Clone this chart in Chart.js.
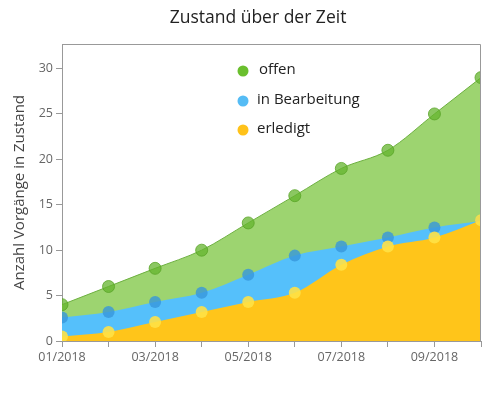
<!DOCTYPE html>
<html>
<head>
<meta charset="utf-8">
<script src="https://cdn.jsdelivr.net/npm/chart.js"></script>
<style>
  html, body { margin: 0; padding: 0; background: #fff; }
  #wrap { width: 484px; height: 393px; }
</style>
</head>
<body>
<div id="wrap"><canvas id="chart" width="484" height="393"></canvas></div>
<script>
// DATA
const months = ['01/2018', '02/2018', '03/2018', '04/2018', '05/2018', '06/2018', '07/2018', '08/2018', '09/2018', '10/2018'];
const offen = [4, 6, 8, 10, 13, 16, 19, 21, 25, 29];
const inBearbeitung = [2.6, 3.2, 4.3, 5.3, 7.3, 9.4, 10.4, 11.4, 12.5, 13.2];
const erledigt = [0.5, 1, 2.1, 3.2, 4.3, 5.3, 8.4, 10.4, 11.4, 13.3];
const seriesLabels = ['offen', 'in Bearbeitung', 'erledigt'];
const yTicks = [0, 5, 10, 15, 20, 25, 30];

const FONT = "'Open Sans', sans-serif";
const legendColors = ['#6abf2e', '#55bcf5', '#ffc21a'];

// title, y title, legend and frame drawn by hand
const decor = {
    id: 'decor',
    afterDraw(chart) {
        const ctx = chart.ctx;
        const a = chart.chartArea;
        ctx.save();
        ctx.strokeStyle = '#999';
        ctx.lineWidth = 1;
        ctx.beginPath();
        ctx.moveTo(a.left, a.top + 0.5);
        ctx.lineTo(a.right - 0.5, a.top + 0.5);
        ctx.lineTo(a.right - 0.5, a.bottom);
        ctx.stroke();

        ctx.fillStyle = '#222';
        ctx.font = '17.5px ' + FONT;
        ctx.textAlign = 'center';
        ctx.textBaseline = 'middle';
        ctx.fillText('Zustand über der Zeit', 258, 18);

        ctx.save();
        ctx.translate(20, (a.top + a.bottom) / 2);
        ctx.rotate(-Math.PI / 2);
        ctx.fillStyle = '#444';
        ctx.font = '15px ' + FONT;
        ctx.fillText('Anzahl Vorgänge in Zustand', 0, 0);
        ctx.restore();

        const ys = [71, 101, 130];
        ctx.font = '15px ' + FONT;
        ctx.textAlign = 'left';
        seriesLabels.forEach((lab, i) => {
            ctx.fillStyle = legendColors[i];
            ctx.beginPath();
            ctx.arc(243, ys[i], 5.5, 0, Math.PI * 2);
            ctx.fill();
            ctx.fillStyle = '#222';
            ctx.fillText(lab, i === 0 ? 259 : 257, ys[i] - 1);
        });
        ctx.restore();
    }
};

new Chart(document.getElementById('chart'), {
    type: 'line',
    data: {
        labels: months,
        datasets: [
            {
                label: seriesLabels[0], data: offen, order: 3, clip: 0,
                fill: 'origin', backgroundColor: '#9dd470',
                borderColor: '#6db040', borderWidth: 1,
                pointRadius: 6, pointBorderWidth: 1,
                pointBackgroundColor: 'rgba(100,180,45,0.75)',
                pointBorderColor: 'rgba(90,165,40,0.8)',
                cubicInterpolationMode: 'monotone'
            },
            {
                label: seriesLabels[1], data: inBearbeitung, order: 2, clip: 0,
                fill: 'origin', backgroundColor: '#55c0fb',
                borderColor: '#55c0fb', borderWidth: 0,
                pointRadius: 6, pointBorderWidth: 0,
                pointBackgroundColor: 'rgba(55,150,220,0.8)',
                cubicInterpolationMode: 'monotone'
            },
            {
                label: seriesLabels[2], data: erledigt, order: 1, clip: 0,
                fill: 'origin', backgroundColor: '#ffc51a',
                borderColor: '#ffc51a', borderWidth: 0,
                pointRadius: 6, pointBorderWidth: 0,
                pointBackgroundColor: 'rgba(255,225,70,0.9)',
                cubicInterpolationMode: 'monotone'
            }
        ]
    },
    options: {
        responsive: false,
        animation: false,
        layout: { autoPadding: false, padding: { top: 44, right: 1, left: 0, bottom: 0 } },
        plugins: { legend: { display: false }, title: { display: false }, tooltip: { enabled: false } },
        scales: {
            x: {
                offset: false,
                grid: { drawOnChartArea: false, tickLength: 6, color: '#999' },
                border: { color: '#999' },
                ticks: {
                    autoSkip: false, maxRotation: 0, padding: 3,
                    color: '#666', font: { family: FONT, size: 12.5 },
                    callback: (v, i) => i % 2 === 0 ? months[i] : ''
                },
                afterFit: s => { s.height = 52; }
            },
            y: {
                min: 0, max: 32.7,
                afterBuildTicks: s => { s.ticks = yTicks.map(v => ({ value: v })); },
                grid: { drawOnChartArea: false, tickLength: 6, color: '#999' },
                border: { color: '#999' },
                ticks: { padding: 3, color: '#666', font: { family: FONT, size: 12.5 } },
                afterFit: s => { s.width = 62; }
            }
        }
    },
    plugins: [decor]
});
</script>
</body>
</html>
